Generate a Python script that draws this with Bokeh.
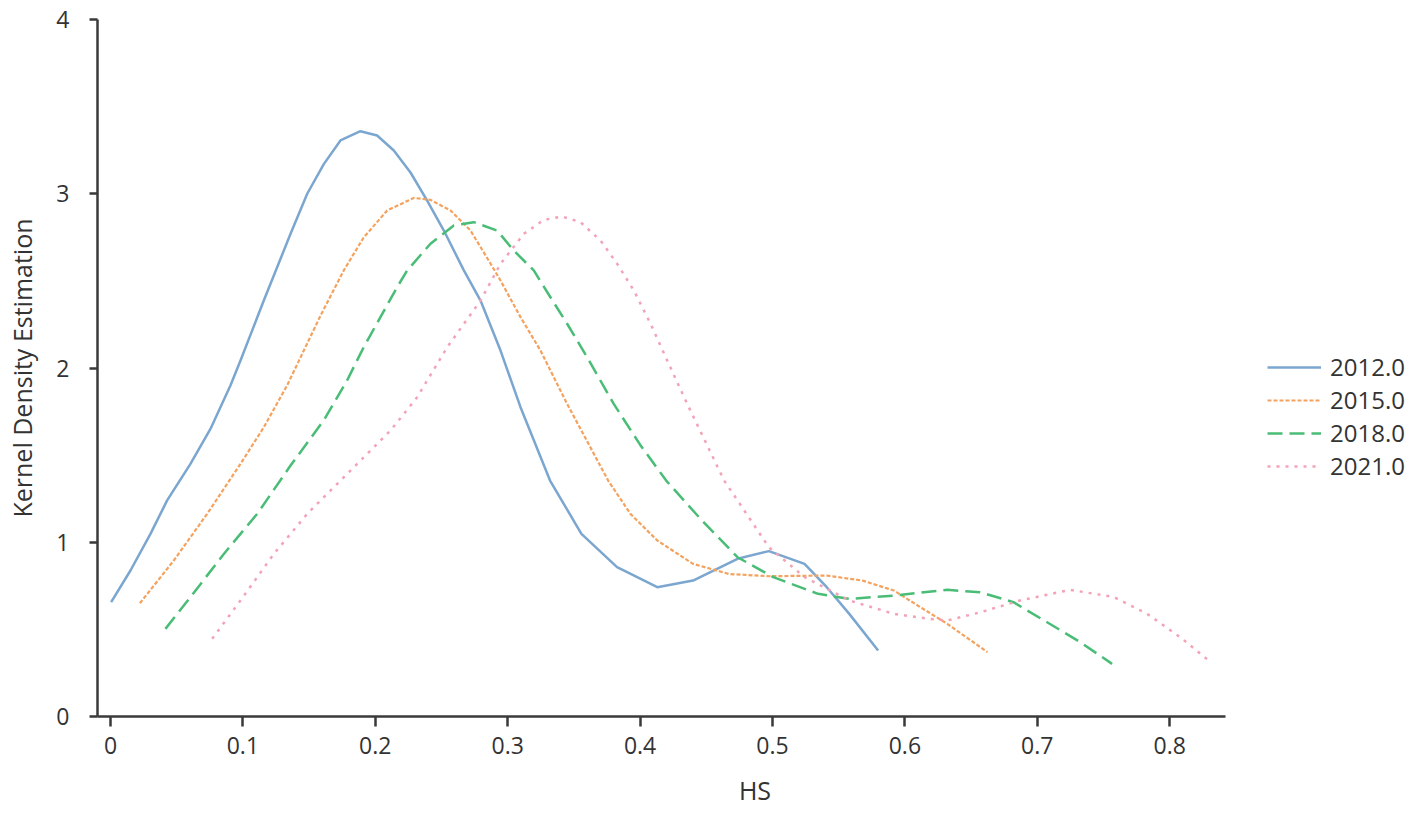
from bokeh.plotting import figure
from bokeh.models import Range1d, FixedTicker, Legend, LegendItem
from bokeh.embed import file_html
from bokeh.resources import INLINE

# ---------------- data ----------------
series_names = ["2012.0", "2015.0", "2018.0", "2021.0"]

x_2012 = [0.0005, 0.0151, 0.0302, 0.0428, 0.0604, 0.0755, 0.0906, 0.0982, 0.1158, 0.136,
          0.1486, 0.1611, 0.1737, 0.1888, 0.2014, 0.214, 0.2266, 0.2392, 0.2518, 0.2669,
          0.2795, 0.2946, 0.3097, 0.332, 0.3557, 0.3826, 0.413, 0.44, 0.4736, 0.4973,
          0.5242, 0.541, 0.558, 0.5798]
y_2012 = [0.656, 0.838, 1.048, 1.24, 1.45, 1.65, 1.90, 2.043, 2.387, 2.77,
          3.0, 3.17, 3.306, 3.359, 3.334, 3.248, 3.122, 2.96, 2.789, 2.56,
          2.387, 2.1, 1.775, 1.354, 1.048, 0.857, 0.742, 0.78, 0.905, 0.949,
          0.876, 0.742, 0.589, 0.379]

x_2015 = [0.0222, 0.0478, 0.073, 0.0982, 0.1158, 0.1334, 0.1586, 0.1762, 0.1913, 0.209,
          0.2291, 0.2417, 0.2568, 0.2719, 0.287, 0.2946, 0.3097, 0.3248, 0.3449, 0.3759,
          0.3927, 0.413, 0.44, 0.467, 0.4973, 0.541, 0.568, 0.5917, 0.6118, 0.632, 0.6624]
y_2015 = [0.65, 0.895, 1.163, 1.45, 1.66, 1.90, 2.30, 2.56, 2.75, 2.904,
          2.976, 2.965, 2.904, 2.789, 2.60, 2.502, 2.292, 2.1, 1.794, 1.354,
          1.163, 1.01, 0.876, 0.818, 0.805, 0.809, 0.78, 0.723, 0.627, 0.532, 0.369]

x_2018 = [0.0415, 0.0604, 0.0856, 0.1108, 0.136, 0.1611, 0.1788, 0.1913, 0.2165, 0.2241,
          0.2417, 0.2593, 0.2744, 0.292, 0.3046, 0.3197, 0.3323, 0.3449, 0.36, 0.3801,
          0.40, 0.4197, 0.4467, 0.4736, 0.5006, 0.5344, 0.558, 0.5917, 0.632, 0.657,
          0.682, 0.7074, 0.7326, 0.7565]
y_2018 = [0.503, 0.685, 0.933, 1.163, 1.44, 1.70, 1.93, 2.12, 2.464, 2.56,
          2.713, 2.818, 2.837, 2.789, 2.674, 2.56, 2.406, 2.254, 2.062, 1.794,
          1.56, 1.354, 1.125, 0.914, 0.8, 0.704, 0.675, 0.694, 0.727, 0.713,
          0.656, 0.541, 0.426, 0.302]

x_2021 = [0.0768, 0.0982, 0.1234, 0.1486, 0.1737, 0.1989, 0.2115, 0.2316, 0.2543, 0.2795,
          0.2946, 0.3122, 0.3273, 0.3411, 0.355, 0.3701, 0.3827, 0.3953, 0.4079, 0.4205,
          0.4356, 0.4635, 0.4804, 0.4973, 0.5242, 0.558, 0.5917, 0.6193, 0.632, 0.657,
          0.687, 0.725, 0.758, 0.783, 0.808, 0.831]
y_2021 = [0.446, 0.666, 0.933, 1.163, 1.354, 1.545, 1.641, 1.832, 2.119, 2.387,
          2.598, 2.77, 2.85, 2.869, 2.837, 2.732, 2.598, 2.445, 2.254, 2.043,
          1.794, 1.354, 1.163, 0.971, 0.8, 0.666, 0.589, 0.56, 0.551, 0.598,
          0.666, 0.727, 0.685, 0.589, 0.455, 0.312]

x_ticks = [0, 0.1, 0.2, 0.3, 0.4, 0.5, 0.6, 0.7, 0.8]
x_tick_labels = ["0", "0.1", "0.2", "0.3", "0.4", "0.5", "0.6", "0.7", "0.8"]
y_ticks = [0, 1, 2, 3, 4]
y_tick_labels = ["0", "1", "2", "3", "4"]

x_label = "HS"
y_label = "Kernel Density Estimation"

# ---------------- styles ----------------
FONT = "Open Sans"
styles = [
    dict(color="#7ba6d0", dash="solid", width=2.5),
    dict(color="#f4a25e", dash="4 2", width=2.2),
    dict(color="#49bd76", dash="15 7", width=2.5),
    dict(color="#f3a3b6", dash="3 6", width=2.5),
]

X_START, X_END, AXIS_END = -0.0098, 0.9834, 0.8421

p = figure(frame_width=1315, frame_height=697,
           min_border_left=97, min_border_top=19, min_border_bottom=90, min_border_right=0,
           x_range=Range1d(X_START, X_END), y_range=Range1d(0, 4),
           output_backend="svg", toolbar_location=None, tools="")
p.outline_line_color = None
p.grid.visible = False
p.background_fill_color = "white"
p.border_fill_color = "white"

xs = [x_2012, x_2015, x_2018, x_2021]
ys = [y_2012, y_2015, y_2018, y_2021]
items = []
for name, xv, yv, st in zip(series_names, xs, ys, styles):
    r = p.line(xv, yv, line_color=st["color"], line_width=st["width"], line_dash=st["dash"],
               line_join="round")
    items.append(LegendItem(label=name, renderers=[r]))

for ax in (p.xaxis[0], p.yaxis[0]):
    ax.axis_line_color = "#3a3a3a"
    ax.axis_line_width = 2.5
    ax.major_tick_line_color = "#3a3a3a"
    ax.major_tick_line_width = 2.5
    ax.major_tick_in = 0
    ax.minor_tick_line_color = None
    ax.major_label_text_font = FONT
    ax.major_label_text_color = "#333333"
    ax.axis_label_text_font = FONT
    ax.axis_label_text_color = "#333333"
    ax.axis_label_text_font_style = "normal"
    ax.axis_label_text_font_size = "25px"
    ax.major_label_text_font_size = "23px"

p.xaxis.bounds = (X_START, AXIS_END)
p.xaxis.ticker = FixedTicker(ticks=x_ticks)
p.xaxis.major_label_overrides = {t: l for t, l in zip(x_ticks, x_tick_labels)}
p.yaxis.ticker = FixedTicker(ticks=y_ticks)
p.yaxis.major_label_overrides = {t: l for t, l in zip(y_ticks, y_tick_labels)}
p.xaxis.major_tick_out = 10
p.yaxis.major_tick_out = 8
p.xaxis.major_label_standoff = 10
p.yaxis.major_label_standoff = 20
p.xaxis.axis_label = x_label
p.yaxis.axis_label = y_label
p.xaxis.axis_label_standoff = 16
p.yaxis.axis_label_standoff = 14

legend = Legend(items=items, location=(1170, 234))
legend.border_line_color = None
legend.background_fill_alpha = 0
legend.padding = 0
legend.margin = 0
legend.glyph_width = 54
legend.glyph_height = 24
legend.label_height = 24
legend.spacing = 0
legend.label_standoff = 9
legend.label_text_font = FONT
legend.label_text_font_size = "24px"
legend.label_text_color = "#333333"
p.add_layout(legend, "center")

open("out.html", "w").write(file_html(p, INLINE))
